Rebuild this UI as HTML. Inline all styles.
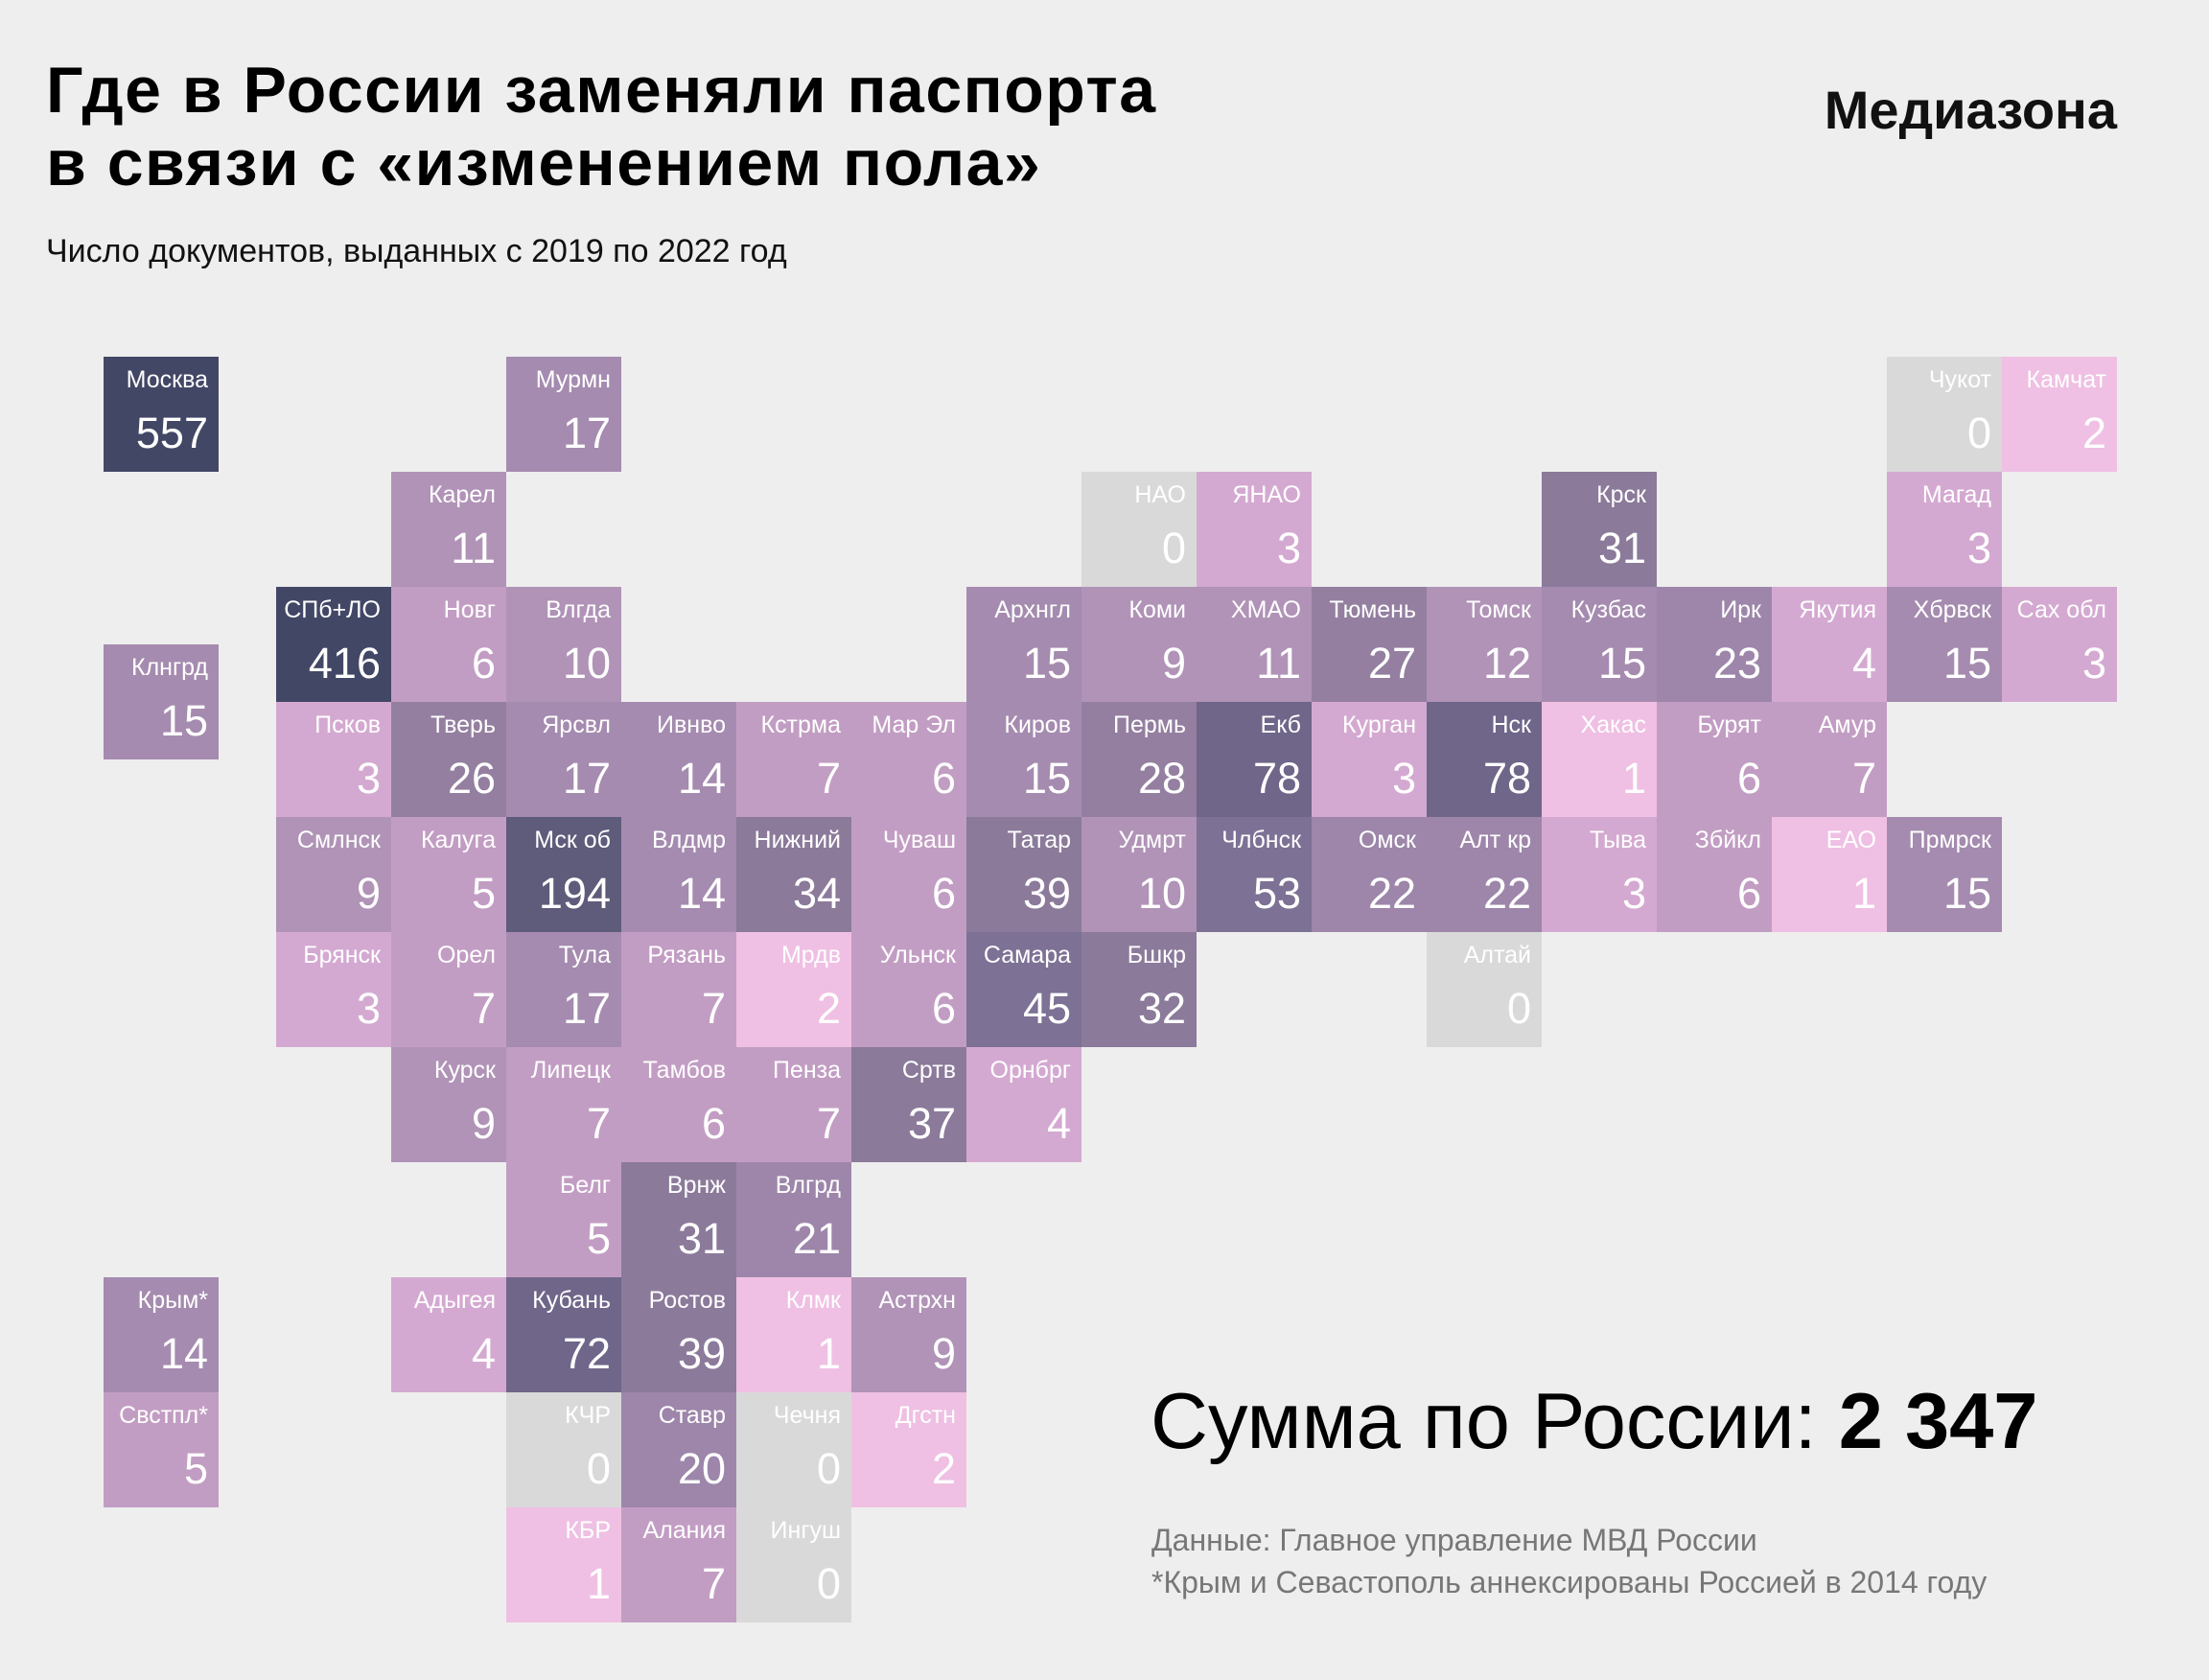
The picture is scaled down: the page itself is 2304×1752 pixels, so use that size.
<!DOCTYPE html>
<html><head><meta charset="utf-8"><style>
body{margin:0;width:2304px;height:1752px;background:#eeeeee;position:relative;overflow:hidden;font-family:"Liberation Sans","Noto Sans CJK SC",sans-serif;}
.t{position:absolute;left:48px;top:56px;font-size:68px;font-weight:bold;line-height:76px;color:#000;letter-spacing:1.5px;}
.s{position:absolute;left:48px;top:243px;font-size:34px;color:#111;}
.m{position:absolute;right:96px;top:82px;font-size:56px;font-weight:bold;color:#111;letter-spacing:0px;}
.c{position:absolute;width:120px;height:120px;color:#fff;}
.c b{position:absolute;right:11px;top:10px;font-weight:normal;font-size:25px;white-space:nowrap;}
.c i{position:absolute;right:11px;top:54px;font-style:normal;font-size:45px;}
.g{background:#d9d9d9}.p1{background:#efc0e3}.p2{background:#d4a9d1}.p3{background:#c29dc3}.p4{background:#b093b7}.p5{background:#a58baf}.p6{background:#9d86aa}.p7{background:#947fa0}.p8{background:#8b7a9a}.p9{background:#7d7195}.p10{background:#6f6689}.p11{background:#5f5b7b}.p12{background:#434766}
.sum{position:absolute;left:1200px;top:1434px;font-size:83px;color:#000;}
.d{position:absolute;left:1201px;font-size:32px;color:#777;}
</style></head><body>
<div class="t">Где в России заменяли паспорта<br>в связи с «изменением пола»</div>
<div class="s">Число документов, выданных с 2019 по 2022 год</div>
<div class="m">Медиазона</div>

<div class="c p12" style="left:108px;top:372px"><b>Москва</b><i>557</i></div>
<div class="c p5" style="left:528px;top:372px"><b>Мурмн</b><i>17</i></div>
<div class="c g" style="left:1968px;top:372px"><b>Чукот</b><i>0</i></div>
<div class="c p1" style="left:2088px;top:372px"><b>Камчат</b><i>2</i></div>

<div class="c p4" style="left:408px;top:492px"><b>Карел</b><i>11</i></div>
<div class="c g" style="left:1128px;top:492px"><b>НАО</b><i>0</i></div>
<div class="c p2" style="left:1248px;top:492px"><b>ЯНАО</b><i>3</i></div>
<div class="c p8" style="left:1608px;top:492px"><b>Крск</b><i>31</i></div>
<div class="c p2" style="left:1968px;top:492px"><b>Магад</b><i>3</i></div>

<div class="c p12" style="left:288px;top:612px"><b>СПб+ЛО</b><i>416</i></div>
<div class="c p3" style="left:408px;top:612px"><b>Новг</b><i>6</i></div>
<div class="c p4" style="left:528px;top:612px"><b>Влгда</b><i>10</i></div>
<div class="c p5" style="left:1008px;top:612px"><b>Архнгл</b><i>15</i></div>
<div class="c p4" style="left:1128px;top:612px"><b>Коми</b><i>9</i></div>
<div class="c p4" style="left:1248px;top:612px"><b>ХМАО</b><i>11</i></div>
<div class="c p7" style="left:1368px;top:612px"><b>Тюмень</b><i>27</i></div>
<div class="c p4" style="left:1488px;top:612px"><b>Томск</b><i>12</i></div>
<div class="c p5" style="left:1608px;top:612px"><b>Кузбас</b><i>15</i></div>
<div class="c p6" style="left:1728px;top:612px"><b>Ирк</b><i>23</i></div>
<div class="c p2" style="left:1848px;top:612px"><b>Якутия</b><i>4</i></div>
<div class="c p5" style="left:1968px;top:612px"><b>Хбрвск</b><i>15</i></div>
<div class="c p2" style="left:2088px;top:612px"><b>Сах обл</b><i>3</i></div>
<div class="c p5" style="left:108px;top:672px"><b>Клнгрд</b><i>15</i></div>

<div class="c p2" style="left:288px;top:732px"><b>Псков</b><i>3</i></div>
<div class="c p7" style="left:408px;top:732px"><b>Тверь</b><i>26</i></div>
<div class="c p5" style="left:528px;top:732px"><b>Ярсвл</b><i>17</i></div>
<div class="c p5" style="left:648px;top:732px"><b>Ивнво</b><i>14</i></div>
<div class="c p3" style="left:768px;top:732px"><b>Кстрма</b><i>7</i></div>
<div class="c p3" style="left:888px;top:732px"><b>Мар Эл</b><i>6</i></div>
<div class="c p5" style="left:1008px;top:732px"><b>Киров</b><i>15</i></div>
<div class="c p7" style="left:1128px;top:732px"><b>Пермь</b><i>28</i></div>
<div class="c p10" style="left:1248px;top:732px"><b>Екб</b><i>78</i></div>
<div class="c p2" style="left:1368px;top:732px"><b>Курган</b><i>3</i></div>
<div class="c p10" style="left:1488px;top:732px"><b>Нск</b><i>78</i></div>
<div class="c p1" style="left:1608px;top:732px"><b>Хакас</b><i>1</i></div>
<div class="c p3" style="left:1728px;top:732px"><b>Бурят</b><i>6</i></div>
<div class="c p3" style="left:1848px;top:732px"><b>Амур</b><i>7</i></div>

<div class="c p4" style="left:288px;top:852px"><b>Смлнск</b><i>9</i></div>
<div class="c p3" style="left:408px;top:852px"><b>Калуга</b><i>5</i></div>
<div class="c p11" style="left:528px;top:852px"><b>Мск об</b><i>194</i></div>
<div class="c p5" style="left:648px;top:852px"><b>Влдмр</b><i>14</i></div>
<div class="c p8" style="left:768px;top:852px"><b>Нижний</b><i>34</i></div>
<div class="c p3" style="left:888px;top:852px"><b>Чуваш</b><i>6</i></div>
<div class="c p8" style="left:1008px;top:852px"><b>Татар</b><i>39</i></div>
<div class="c p4" style="left:1128px;top:852px"><b>Удмрт</b><i>10</i></div>
<div class="c p9" style="left:1248px;top:852px"><b>Члбнск</b><i>53</i></div>
<div class="c p6" style="left:1368px;top:852px"><b>Омск</b><i>22</i></div>
<div class="c p6" style="left:1488px;top:852px"><b>Алт кр</b><i>22</i></div>
<div class="c p2" style="left:1608px;top:852px"><b>Тыва</b><i>3</i></div>
<div class="c p3" style="left:1728px;top:852px"><b>Збйкл</b><i>6</i></div>
<div class="c p1" style="left:1848px;top:852px"><b>ЕАО</b><i>1</i></div>
<div class="c p5" style="left:1968px;top:852px"><b>Прмрск</b><i>15</i></div>

<div class="c p2" style="left:288px;top:972px"><b>Брянск</b><i>3</i></div>
<div class="c p3" style="left:408px;top:972px"><b>Орел</b><i>7</i></div>
<div class="c p5" style="left:528px;top:972px"><b>Тула</b><i>17</i></div>
<div class="c p3" style="left:648px;top:972px"><b>Рязань</b><i>7</i></div>
<div class="c p1" style="left:768px;top:972px"><b>Мрдв</b><i>2</i></div>
<div class="c p3" style="left:888px;top:972px"><b>Ульнск</b><i>6</i></div>
<div class="c p9" style="left:1008px;top:972px"><b>Самара</b><i>45</i></div>
<div class="c p8" style="left:1128px;top:972px"><b>Бшкр</b><i>32</i></div>
<div class="c g" style="left:1488px;top:972px"><b>Алтай</b><i>0</i></div>

<div class="c p4" style="left:408px;top:1092px"><b>Курск</b><i>9</i></div>
<div class="c p3" style="left:528px;top:1092px"><b>Липецк</b><i>7</i></div>
<div class="c p3" style="left:648px;top:1092px"><b>Тамбов</b><i>6</i></div>
<div class="c p3" style="left:768px;top:1092px"><b>Пенза</b><i>7</i></div>
<div class="c p8" style="left:888px;top:1092px"><b>Сртв</b><i>37</i></div>
<div class="c p2" style="left:1008px;top:1092px"><b>Орнбрг</b><i>4</i></div>

<div class="c p3" style="left:528px;top:1212px"><b>Белг</b><i>5</i></div>
<div class="c p8" style="left:648px;top:1212px"><b>Врнж</b><i>31</i></div>
<div class="c p6" style="left:768px;top:1212px"><b>Влгрд</b><i>21</i></div>

<div class="c p5" style="left:108px;top:1332px"><b>Крым*</b><i>14</i></div>
<div class="c p2" style="left:408px;top:1332px"><b>Адыгея</b><i>4</i></div>
<div class="c p10" style="left:528px;top:1332px"><b>Кубань</b><i>72</i></div>
<div class="c p8" style="left:648px;top:1332px"><b>Ростов</b><i>39</i></div>
<div class="c p1" style="left:768px;top:1332px"><b>Клмк</b><i>1</i></div>
<div class="c p4" style="left:888px;top:1332px"><b>Астрхн</b><i>9</i></div>

<div class="c p3" style="left:108px;top:1452px"><b>Свстпл*</b><i>5</i></div>
<div class="c g" style="left:528px;top:1452px"><b>КЧР</b><i>0</i></div>
<div class="c p6" style="left:648px;top:1452px"><b>Ставр</b><i>20</i></div>
<div class="c g" style="left:768px;top:1452px"><b>Чечня</b><i>0</i></div>
<div class="c p1" style="left:888px;top:1452px"><b>Дгстн</b><i>2</i></div>

<div class="c p1" style="left:528px;top:1572px"><b>КБР</b><i>1</i></div>
<div class="c p3" style="left:648px;top:1572px"><b>Алания</b><i>7</i></div>
<div class="c g" style="left:768px;top:1572px"><b>Ингуш</b><i>0</i></div>

<div class="sum">Сумма по России: <b>2 347</b></div>
<div class="d" style="top:1588px">Данные: Главное управление МВД России</div>
<div class="d" style="top:1632px">*Крым и Севастополь аннексированы Россией в 2014 году</div>
</body></html>
